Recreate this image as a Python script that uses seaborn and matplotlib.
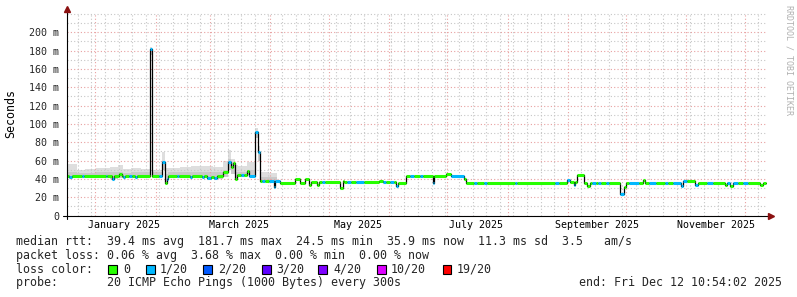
import numpy as np
import pandas as pd
import matplotlib
matplotlib.use("Agg")
import matplotlib.pyplot as plt
import matplotlib.transforms as mtransforms
from matplotlib.patches import Rectangle
from matplotlib.lines import Line2D
from datetime import datetime, timedelta
import seaborn as sns

# ---------------- data ----------------
END = datetime(2025, 12, 12, 10, 54, 2)
SPAN_DAYS = 360
START = END - timedelta(days=SPAN_DAYS)

# median rtt, piecewise constant: segment start (days since START), value (ms), loss level index
seg_day = [0, 1.2, 2.6, 7.7, 8.7, 20, 20.8, 23, 24.2, 26.7, 28.3, 29, 30, 32, 33.2, 35, 36,
           42.7, 43.7, 47.3, 49, 50.6, 51.4, 52, 56.5, 57.5, 63.5, 64.5, 69.5, 70.5, 72, 74,
           75.5, 77.2, 80.2, 82.8, 84.3, 85.2, 86.4, 87.4, 89.5, 91, 92.6, 93.4, 96.7, 98,
           99.3, 100.3, 102, 104, 106.3, 107.2, 109.6, 117.3, 119.9, 122.4, 124.5, 125.5,
           128.4, 129.4, 131, 132.5, 140.4, 141.8, 142.6, 144, 146, 148.6, 153, 160.5, 162.6,
           164.1, 166, 168, 169.2, 170.3, 174.4, 176.5, 178.5, 181.5, 183, 188.2, 189, 195,
           197.5, 204.2, 205.4, 209.4, 211, 214.5, 216, 230.3, 231.2, 251, 253, 257.2, 258.8,
           260.6, 261.5, 262.3, 266, 267.5, 269, 270, 272, 273, 274.5, 277, 279, 284.5, 286.5,
           287.5, 288.8, 294, 296.3, 297.3, 299.5, 303, 307.5, 309, 311.5, 315.8, 317, 319,
           323, 324.5, 329, 332, 338.5, 339.3, 341, 342.5, 345, 347.5, 350, 356.5, 358.2]
seg_median_ms = [43, 42, 43, 43, 43, 43, 43, 40, 43, 45, 43, 42, 43, 43, 43, 42, 43,
                 182, 43, 43, 58, 35, 40, 43, 43, 43, 42, 43, 42, 43, 41, 42,
                 41, 43, 47, 58, 53, 57, 40, 44, 44, 44, 49, 43, 91, 69,
                 38, 37.5, 37.5, 37.5, 31, 37.5, 36, 40, 36, 40, 33, 37,
                 33, 37, 37, 37, 30, 38, 36.4, 36.4, 36.4, 36.4, 36.4, 38, 36.4,
                 36.4, 36.4, 36.4, 32, 35, 42.6, 43, 43, 43, 43, 35, 43, 45,
                 43, 40, 35.3, 35.3, 35.3, 35.3, 35.3, 35.3, 35.3, 35.3, 35.3, 39, 36.4,
                 33, 36.4, 43.7, 35.3, 32, 35.3, 35.3, 35.3, 35.3, 35.3, 35.3, 35.3, 24, 31,
                 35.3, 35.3, 35.3, 39, 35.3, 35.3, 35.3, 35.3, 35.3, 35.3, 32, 37.5, 37.5,
                 33, 35.3, 35.3, 35.3, 33, 35.3, 32, 35.3, 35.3, 35.3, 35.3, 33, 36]
seg_loss = [0, 1, 0, 1, 0, 1, 0, 1, 0, 0, 0, 1, 0, 1, 0, 1, 0,
            1, 0, 1, 1, 0, 1, 0, 1, 0, 1, 0, 1, 0, 1, 0,
            1, 0, 0, 1, 0, 0, 0, 0, 1, 0, 0, 1, 1, 1,
            0, 1, 0, 1, 1, 1, 0, 0, 0, 0, 0, 0,
            0, 0, 1, 0, 0, 0, 0, 1, 0, 1, 0, 0, 1,
            0, 1, 0, 1, 0, 0, 1, 0, 1, 0, 1, 0, 0,
            1, 0, 0, 1, 0, 1, 0, 1, 0, 1, 0, 1, 0,
            1, 0, 0, 0, 0, 0, 1, 0, 1, 0, 1, 0, 1, 0,
            0, 1, 0, 0, 0, 1, 0, 1, 0, 1, 1, 1, 0,
            1, 0, 1, 0, 0, 1, 0, 1, 0, 1, 0, 0, 0]
data_end_day = 359.5

# smoke (spread of the 20 pings), piecewise constant
smoke_day = [0, 5, 9, 15, 22, 26, 29, 33, 38, 42.7, 43.7, 47.3, 49, 50.6, 52, 58, 64, 70,
             75, 80.2, 82.8, 84.3, 86.4, 88, 92.6, 96.7, 98, 99.3, 104, 108, 111.5]
smoke_lo_ms = [41, 41, 41, 41, 40, 41, 41, 41, 41, 175, 41, 41, 50, 35, 41, 41, 41, 41,
               40, 42, 50, 45, 40, 42, 44, 85, 60, 37, 37, 36, np.nan]
smoke_mid_ms = [48, 46, 46, 47, 47, 48, 46, 48, 47, 182, 47, 47, 60, 45, 47, 48, 47, 48,
                47, 50, 62, 56, 47, 47, 50, 91, 70, 42, 42, 40, np.nan]
smoke_hi_ms = [56, 50, 51, 52, 53, 55, 51, 52, 51, 184, 50, 50, 69, 52, 52, 53, 54, 54,
               53, 60, 71, 62, 55, 54, 58, 95, 76, 47, 46, 44, np.nan]

loss_labels = ["0", "1/20", "2/20", "3/20", "4/20", "10/20", "19/20"]
loss_colors = ["#26ff00", "#00b8ff", "#0059ff", "#5e00ff", "#7e00ff", "#dd00ff", "#ff0000"]

y_ticks_ms = [0, 20, 40, 60, 80, 100, 120, 140, 160, 180, 200]
y_tick_labels = ["0", "20 m", "40 m", "60 m", "80 m", "100 m", "120 m", "140 m",
                 "160 m", "180 m", "200 m"]
month_labels = ["January 2025", "March 2025", "May 2025", "July 2025",
                "September 2025", "November 2025"]
month_label_dates = [datetime(2025, m, 16) for m in (1, 3, 5, 7, 9, 11)]

stat_lines = [
    "median rtt:  39.4 ms avg  181.7 ms max  24.5 ms min  35.9 ms now  11.3 ms sd  3.5   am/s",
    "packet loss: 0.06 % avg  3.68 % max  0.00 % min  0.00 % now",
]
probe_text = "probe:       20 ICMP Echo Pings (1000 Bytes) every 300s"
end_text = "end: Fri Dec 12 10:54:02 2025"

# ---------------- style ----------------
sns.set_theme(style="white")
plt.rcParams["font.family"] = ["DejaVu Sans Mono", "DejaVu Sans"]

W, H = 797, 297
fig = plt.figure(figsize=(W / 100, H / 100), dpi=100)
fig.patch.set_facecolor("white")

def fx(px):
    return px / W

def fy(py):
    return 1 - py / H

AX_L, AX_R, AX_B, AX_T = 67, 767, 215.5, 13
ax = fig.add_axes([fx(AX_L), fy(AX_B), (AX_R - AX_L) / W, (AX_B - AX_T) / H])
ax.set_facecolor("white")

def to_day(d):
    return (d - START).total_seconds() / 86400.0

# smoke
sd = np.array(smoke_day + [smoke_day[-1]])
ax.fill_between(smoke_day, smoke_lo_ms, smoke_hi_ms, step="post", color="#dedede",
                lw=0, zorder=0.5)
ax.fill_between(smoke_day, smoke_lo_ms, smoke_mid_ms, step="post", color="#cacaca",
                lw=0, zorder=0.6)

# black median step line (seaborn)
df = pd.DataFrame({"day": seg_day + [data_end_day],
                   "median": seg_median_ms + [seg_median_ms[-1]]})
sns.lineplot(data=df, x="day", y="median", drawstyle="steps-post", color="black",
             lw=0.9, ax=ax, estimator=None, sort=False, zorder=3)

# colored median segments by loss
ends = seg_day[1:] + [data_end_day]
for s, e, v, l in zip(seg_day, ends, seg_median_ms, seg_loss):
    ax.hlines(v, s, e, colors=loss_colors[l], lw=2.2, zorder=4)

ax.set_xlim(0, SPAN_DAYS)
ax.set_ylim(0, 221)
ax.set_xlabel("")
ax.set_ylabel("")

# grid
month_starts = []
d = datetime(START.year, START.month, 1)
while d <= END:
    if d >= START:
        month_starts.append(to_day(d))
    d = datetime(d.year + (d.month // 12), d.month % 12 + 1, 1)
week_ticks = []
d = datetime(2024, 12, 23)
while d <= END:
    week_ticks.append(to_day(d))
    d += timedelta(days=7)

ax.set_xticks(month_starts)
ax.set_xticks(week_ticks, minor=True)
ax.set_xticklabels([])
ax.set_yticks(y_ticks_ms)
ax.set_yticklabels(y_tick_labels)
ax.set_yticks(np.arange(10, 221, 10), minor=True)

ax.set_axisbelow(False)
ax.grid(which="minor", color="#c6c6c6", linestyle=(0, (1, 2)), lw=0.8, zorder=1)
ax.grid(which="major", color="#e8a0a0", linestyle=(0, (1, 2)), lw=0.8, zorder=1.1)
for gl in ax.get_xgridlines() + ax.get_ygridlines():
    gl.set_zorder(1.1)

ax.tick_params(axis="y", which="major", labelsize=7.2, length=2.5, width=0.8,
               color="black", pad=3, direction="out")
ax.tick_params(axis="y", which="minor", length=0)
ax.tick_params(axis="x", which="major", length=2.5, width=0.8, color="#e08080",
               direction="out")
ax.tick_params(axis="x", which="minor", length=2, width=0.8, color="#c0c0c0",
               direction="out")

for sp in ax.spines.values():
    sp.set_visible(False)

# axis lines with arrows
fig.add_artist(Line2D([fx(AX_L), fx(AX_L)], [fy(219), fy(10)], color="black", lw=0.8))
fig.add_artist(Line2D([fx(63), fx(770)], [fy(AX_B), fy(AX_B)], color="black", lw=0.8))
fig.add_artist(Line2D([fx(AX_L)], [fy(9)], marker="^", markersize=4.5, color="#8b1010",
                      lw=0))
fig.add_artist(Line2D([fx(771)], [fy(AX_B)], marker=">", markersize=4.5, color="#8b1010",
                      lw=0))

# month labels
trans = mtransforms.blended_transform_factory(ax.transData, fig.transFigure)
for lab, dt in zip(month_labels, month_label_dates):
    ax.text(to_day(dt), fy(224.7), lab, transform=trans, ha="center", va="center",
            fontsize=7.2, color="black")

# y label
fig.text(fx(10.5), fy(114), "Seconds", rotation=90, ha="center", va="center",
         fontsize=8.4, color="black")

# watermark
fig.text(fx(788.5), fy(5), "RRDTOOL / TOBI OETIKER", rotation=270, ha="center",
         va="top", fontsize=6, color="#b0b0b0")

# legend / stats
FS = 8.4
fig.text(fx(16), fy(241.7), stat_lines[0], ha="left", va="center", fontsize=FS)
fig.text(fx(16), fy(255.2), stat_lines[1], ha="left", va="center", fontsize=FS)
fig.text(fx(16), fy(269.3), "loss color:", ha="left", va="center", fontsize=FS)
box_x = [108, 146, 203, 262, 318, 377, 443]
label_x = [123, 160, 218, 276, 333, 391, 457]
for bx, lx, col, lab in zip(box_x, label_x, loss_colors, loss_labels):
    fig.add_artist(Rectangle((fx(bx), fy(273.5)), 8.5 / W, 8.5 / H, transform=fig.transFigure,
                             facecolor=col, edgecolor="black", lw=0.8))
    fig.text(fx(lx), fy(269.3), lab, ha="left", va="center", fontsize=FS)
fig.text(fx(16), fy(282.8), probe_text, ha="left", va="center", fontsize=FS)
fig.text(fx(782), fy(282.8), end_text, ha="right", va="center", fontsize=FS)

fig.savefig("out.png", dpi=100, facecolor="white")
